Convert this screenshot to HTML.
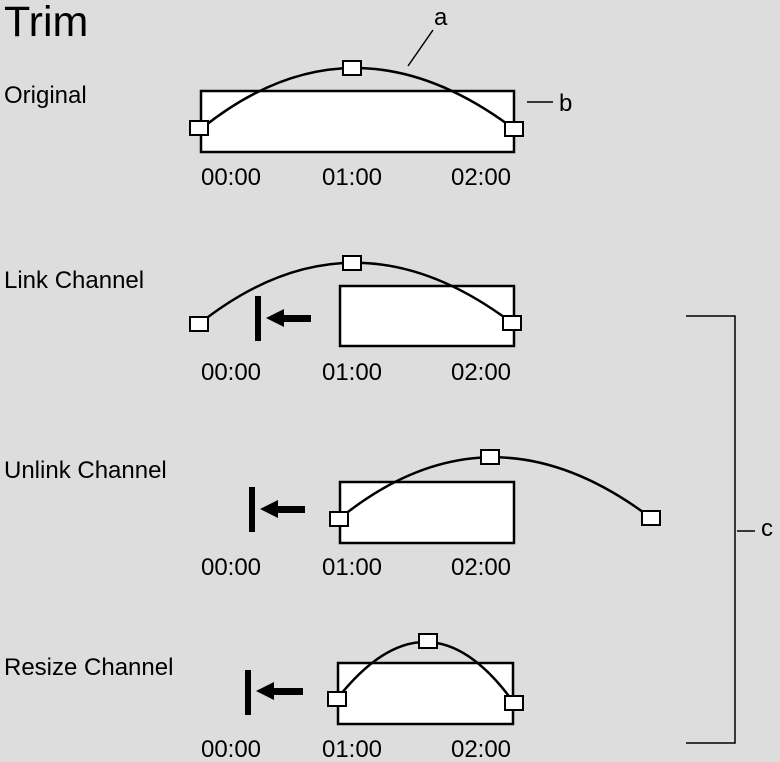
<!DOCTYPE html>
<html><head><meta charset="utf-8"><style>
html,body{margin:0;padding:0;background:#dddddd;}
svg{display:block;}
text{font-family:"Liberation Sans",Arial,sans-serif;fill:#000;}
</style></head><body>
<svg width="780" height="762" viewBox="0 0 780 762" xmlns="http://www.w3.org/2000/svg">
<rect width="780" height="762" fill="#dddddd"/>
<text x="4" y="36" font-size="43">Trim</text>
<g font-size="24">
<text x="4" y="103">Original</text>
<text x="4" y="288">Link Channel</text>
<text x="4" y="478">Unlink Channel</text>
<text x="4" y="675">Resize Channel</text>
</g>
<g font-size="24" text-anchor="middle">
<text x="231" y="185">00:00</text><text x="352" y="185">01:00</text><text x="481" y="185">02:00</text>
<text x="231" y="380">00:00</text><text x="352" y="380">01:00</text><text x="481" y="380">02:00</text>
<text x="231" y="575">00:00</text><text x="352" y="575">01:00</text><text x="481" y="575">02:00</text>
<text x="231" y="757">00:00</text><text x="352" y="757">01:00</text><text x="481" y="757">02:00</text>
</g>
<g stroke="#000" stroke-width="2.5" fill="#fff">
<rect x="201" y="91" width="313" height="61"/>
<rect x="340" y="286" width="174" height="60"/>
<rect x="340" y="482" width="174" height="61"/>
<rect x="338" y="663" width="175" height="61"/>
</g>
<g stroke="#000" stroke-width="2.5" fill="none">
<path d="M201 129 Q352 7 514 129"/>
<path d="M199 324 Q352 202 512 323"/>
<path d="M339 519 Q490 396 651 518"/>
<path d="M337 699 Q428 583 514 703"/>
</g>
<g stroke="#000" stroke-width="2" fill="#fff">
<rect x="190" y="121" width="18" height="14"/>
<rect x="343" y="61" width="18" height="14"/>
<rect x="505" y="122" width="18" height="14"/>
<rect x="190" y="317" width="18" height="14"/>
<rect x="343" y="256" width="18" height="14"/>
<rect x="503" y="316" width="18" height="14"/>
<rect x="330" y="512" width="18" height="14"/>
<rect x="481" y="450" width="18" height="14"/>
<rect x="642" y="511" width="18" height="14"/>
<rect x="328" y="692" width="18" height="14"/>
<rect x="419" y="634" width="18" height="14"/>
<rect x="505" y="696" width="18" height="14"/>
</g>
<g stroke="#000" stroke-width="1.5" fill="none">
<line x1="408" y1="66" x2="433" y2="30"/>
<line x1="527" y1="102" x2="553" y2="102"/>
<polyline points="686,316 735,316 735,743 686,743"/>
<line x1="737" y1="531" x2="755" y2="531"/>
</g>
<text x="434" y="25" font-size="24">a</text>
<text x="559" y="111" font-size="24">b</text>
<text x="761" y="536" font-size="24">c</text>
<g fill="#000">
<rect x="255" y="296" width="6" height="45"/>
<rect x="282" y="315" width="29" height="7"/>
<polygon points="266,318 284,309 284,327"/>
<rect x="249" y="487" width="6" height="45"/>
<rect x="276" y="506" width="29" height="7"/>
<polygon points="260,509 278,500 278,518"/>
<rect x="245" y="670" width="6" height="45"/>
<rect x="272" y="688" width="31" height="7"/>
<polygon points="256,691 274,682 274,700"/>
</g>
</svg>
</body></html>
